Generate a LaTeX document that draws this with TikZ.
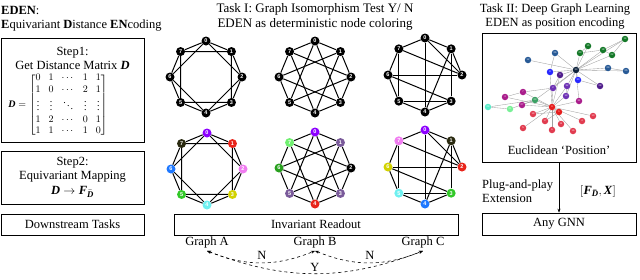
\documentclass[tikz,border=0pt]{standalone}
\usepackage{amsmath,amssymb}
\usepackage{fontspec}
\setmainfont{Liberation Serif}
\newfontfamily\numfont{Liberation Sans}
\usetikzlibrary{positioning,arrows.meta,backgrounds}
\definecolor{cviolet}{RGB}{140,0,255}
\definecolor{cred}{RGB}{232,37,27}
\definecolor{cpink}{RGB}{240,124,240}
\definecolor{cyellow}{RGB}{210,210,0}
\definecolor{ccyan}{RGB}{110,240,240}
\definecolor{cgreen}{RGB}{50,200,40}
\definecolor{cblue}{RGB}{30,120,255}
\definecolor{colive}{RGB}{42,42,16}
\definecolor{cmauve}{RGB}{122,90,154}
\definecolor{clgreen}{RGB}{112,240,112}
\definecolor{cdgreen}{RGB}{40,160,30}
% karate colours
\definecolor{kgreen}{RGB}{20,120,40}
\definecolor{knavy}{RGB}{15,35,60}
\definecolor{ksteel}{RGB}{40,90,150}
\definecolor{kblue}{RGB}{40,40,255}
\definecolor{kdpurple}{RGB}{80,30,140}
\definecolor{kpurple}{RGB}{110,50,180}
\definecolor{kmagenta}{RGB}{170,30,140}
\definecolor{kteal}{RGB}{60,160,100}
\definecolor{kcyan}{RGB}{90,235,200}
\definecolor{klgreen}{RGB}{120,240,150}
\definecolor{kred}{RGB}{230,30,30}
\definecolor{krose}{RGB}{225,60,80}
\newcommand{\bD}{\textbf{\textit{D}}}
\newcommand{\bF}{\textbf{\textit{F}}}
\newcommand{\bX}{\textbf{\textit{X}}}

\begin{document}
\begin{tikzpicture}[x=1pt,y=-1pt,
  panel/.style={draw,line width=0.7pt,inner sep=0pt},
  txt/.style={font=\fontsize{12.5}{14}\selectfont,inner sep=0pt,align=center},
  gv/.style={circle,fill=black,inner sep=0pt,minimum size=9pt,text=white,font=\numfont\fontsize{5.5}{5.5}\selectfont\bfseries},
  cv/.style={gv,fill=#1},
  kv/.style={circle,fill=#1,inner sep=0pt,minimum size=6.5pt,text=white,font=\numfont\fontsize{2.5}{2.5}\selectfont},
  gedge/.style={line width=1pt},
  kedge/.style={gray!75,line width=0.35pt},
  ynarr/.style={{Stealth[length=4pt]}-{Stealth[length=4pt]},dashed,line width=0.6pt}
]
\useasboundingbox (0,0) rectangle (640,279);

% left panel
\node[txt,font=\fontsize{12.5}{14}\selectfont\bfseries,anchor=west] (edentitle) at (1,10) {EDEN\textmd{:}};
\node[txt,anchor=west] (edenfull) at (1,26) {\textbf{E}quivariant \textbf{D}istance \textbf{EN}coding};
\node[panel,minimum width=143pt,minimum height=104pt] (step1) at (72.5,90) {};
\node[txt] (step1txt) at (72.5,58) {Step1:\\Get Distance Matrix \bD};
\node[inner sep=0pt,font=\fontsize{10}{11.5}\selectfont] (dmat) at (58,105)
  {\setlength{\arraycolsep}{4pt}$\bD=\begin{bmatrix}0&1&\cdots&1&1\\1&0&\cdots&2&1\\\vdots&\vdots&\ddots&\vdots&\vdots\\1&2&\cdots&0&1\\1&1&\cdots&1&0\end{bmatrix}$};
\node[panel,minimum width=143pt,minimum height=53pt] (step2) at (72.5,177.5) {};
\node[txt,font=\fontsize{12.5}{14.5}\selectfont] (step2txt) at (72.5,177) {Step2:\\Equivariant Mapping\\$\bD\rightarrow\bF_{\bar{\bD}}$};
\node[panel,minimum width=143pt,minimum height=21pt,txt] (down) at (72.5,224.5) {Downstream Tasks};

% middle panel
\node[txt,font=\fontsize{13}{15}\selectfont] (task1) at (315,17) {Task I: Graph Isomorphism Test Y/ N\\EDEN as deterministic node coloring};

\begin{scope}[shift={(206,77)}]
  \foreach \i in {0,...,7} \node[gv] (gA\i) at (-90+45*\i:36) {\i};
\end{scope}
\begin{scope}[shift={(315,77)}]
  \foreach \i in {0,...,7} \node[gv] (gB\i) at (-90+45*\i:36) {\i};
\end{scope}
\begin{scope}[shift={(425,75)}]
  \foreach \i in {0,...,7} \node[gv] (gC\i) at (-90+45*\i:37) {\i};
\end{scope}
\begin{scope}[shift={(207,169)}]
  \foreach \i/\c in {0/cviolet,1/cred,2/cpink,3/cyellow,4/ccyan,5/cgreen,6/cblue,7/colive}
    \node[cv=\c] (cA\i) at (-90+45*\i:36) {\i};
\end{scope}
\begin{scope}[shift={(315,168)}]
  \foreach \i/\c in {0/cviolet,1/cmauve,2/black,3/cmauve,4/cred,5/cmauve,6/cdgreen,7/clgreen}
    \node[cv=\c] (cB\i) at (-90+45*\i:36) {\i};
\end{scope}
\begin{scope}[shift={(425,167)}]
  \foreach \i/\c in {0/cviolet,1/colive,2/cred,3/cgreen,4/cblue,5/ccyan,6/cyellow,7/cpink}
    \node[cv=\c] (cC\i) at (-90+45*\i:37) {\i};
\end{scope}

% edges
\foreach \i in {0,...,7}{
  \pgfmathtruncatemacro\j{mod(\i+1,8)}
  \pgfmathtruncatemacro\k{mod(\i+2,8)}
  \pgfmathtruncatemacro\m{mod(\i+3,8)}
  \draw[gedge] (gA\i)--(gA\j) (gA\i)--(gA\k) (cA\i)--(cA\j) (cA\i)--(cA\k);
  \draw[gedge] (gB\i)--(gB\j) (gB\i)--(gB\m) (cB\i)--(cB\j) (cB\i)--(cB\m);
}
\foreach \a/\b in {0/1,1/2,3/4,4/5,5/6,6/7,7/0,7/5,0/4,1/3,1/4,7/2,6/2,6/3,5/3,0/2}
  \draw[gedge] (gC\a)--(gC\b) (cC\a)--(cC\b);

\node[panel,minimum width=284pt,minimum height=21pt,txt] (readout) at (316,224.5) {Invariant Readout};
\node[txt] (labA) at (207,242) {Graph A};
\node[txt] (labB) at (315,242) {Graph B};
\node[txt] (labC) at (423,242) {Graph C};
\draw[ynarr] ([yshift=-3pt]labA.south) to[bend right=22] ([yshift=-3pt]labB.south);
\draw[ynarr] ([yshift=-3pt]labB.south) to[bend right=22] ([yshift=-3pt]labC.south);
\draw[ynarr] ([yshift=-3pt]labA.south) to[bend right=21] ([yshift=-3pt]labC.south);
\node[txt] (nAB) at (262,255.5) {N};
\node[txt] (nBC) at (370,255.5) {N};
\node[txt] (yAC) at (315,267) {Y};

% right panel
\node[txt] (task2) at (555,17) {Task II: Deep Graph Learning\\EDEN as position encoding};
\node[panel,minimum width=154pt,minimum height=129pt] (posbox) at (559,97.5) {};
\foreach \x/\y/\c/\n in {625/39/kgreen/14,588/46/kgreen/15,580/53/kgreen/20,603/50/kgreen/18,612/55/kgreen/22,
  576/70/knavy/33,555/53/ksteel/26,528/60/ksteel/12,608/68/ksteel/29,626/71/ksteel/25,
  550/72/kblue/8,578/80/kblue/30,560/75/kdpurple/9,553/88/kpurple/2,567/86/kpurple/32,
  600/86/kdpurple/28,566/96/kpurple/13,523/92/kmagenta/7,505/97/kmagenta/3,522/105/kmagenta/27,
  579/101/kmagenta/31,535/100/kteal/23,488/107/kcyan/24,510/109/klgreen/21,552/107/kred/0,
  559/112/kred/1,533/114/krose/19,545/121/krose/17,561/124/krose/11,582/121/krose/4,
  593/116/krose/10,523/128/krose/5,552/130/krose/6,573/131/krose/16}
  \node[kv=\c] (k\n) at (\x,\y) {\n};
\begin{scope}[on background layer]
\foreach \b in {14,15,20,18,22,26,12,29,25,8,30,9,32,28,13,31,23,2}
  \draw[kedge] (k33)--(k\b);
\foreach \b in {7,3,27,19,17,11,4,10,5,6,16,1,2,8,32,13,23,31,9}
  \draw[kedge] (k0)--(k\b);
\foreach \a/\b in {14/18,14/22,15/20,18/22,20/18,23/24,23/21,24/21,3/7,7/2,26/8,28/30,29/25,13/32,2/9,27/23,1/19,1/17}
  \draw[kedge] (k\a)--(k\b);
\end{scope}
\node[txt] (euclid) at (559,150) {Euclidean ‘Position’};
\node[panel,minimum width=154pt,minimum height=22pt,txt] (gnn) at (559,224) {Any GNN};
\draw[-{Stealth[length=4pt]},line width=0.6pt] (posbox.south) -- (gnn.north);
\node[txt,align=left,anchor=west] (plug) at (482,191) {Plug-and-play\\Extension};
\node[txt] (feat) at (598,191) {$[\bF_{\bar{\bD}},\bX]$};
\end{tikzpicture}
\end{document}
